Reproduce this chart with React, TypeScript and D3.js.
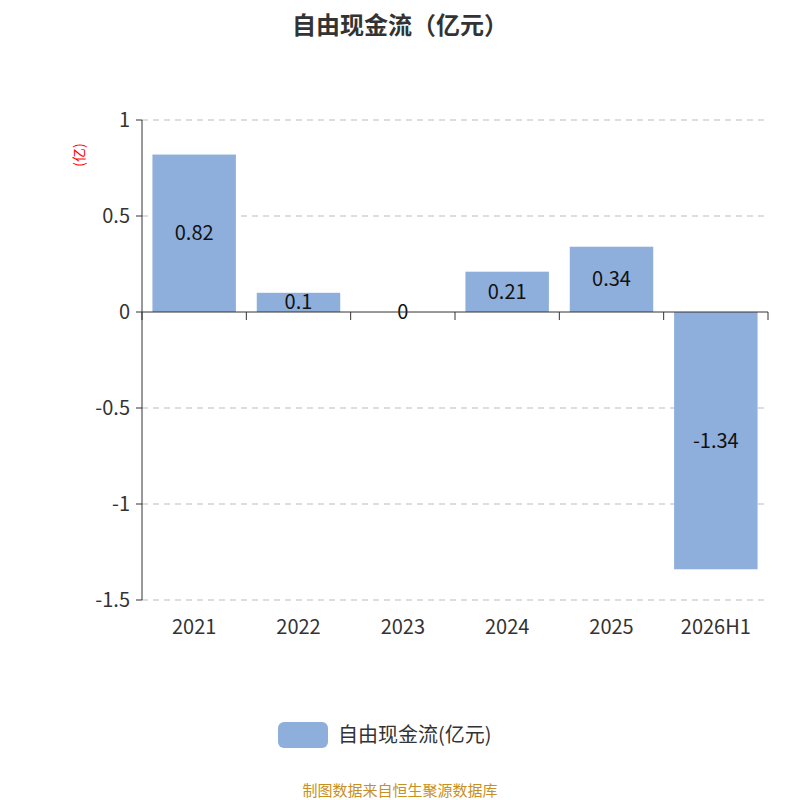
import { scaleBand, scaleLinear } from "d3";

const categories = ["2021", "2022", "2023", "2024", "2025", "2026H1"];
const values = [0.82, 0.1, 0, 0.21, 0.34, -1.34];
const yTicks = [1, 0.5, 0, -0.5, -1, -1.5];

const font = "'Noto Sans CJK SC', 'Noto Sans', sans-serif";

export default function App() {
    const x = scaleBand().domain(categories).range([142, 768]).paddingInner(0.2).paddingOuter(0.1);
    const band = scaleBand().domain(categories).range([142, 768]);
    const y = scaleLinear().domain([-1.5, 1]).range([600, 120]);

    return (
        <svg width={800} height={800} style={{ position: "absolute", left: 0, top: 0, fontFamily: font }}>
            <text x={400} y={34} textAnchor="middle" fontSize={24} fontWeight="bold" fill="#333">
                自由现金流（亿元）
            </text>
            <text transform="translate(84,155) rotate(-90)" textAnchor="middle" fontSize={14} fill="red">
                (亿)
            </text>
            {yTicks.map((t) => (
                <g key={t}>
                    {t !== 0 && (
                        <line x1={142} x2={768} y1={y(t)} y2={y(t)} stroke="#bbb" strokeDasharray="6,5" />
                    )}
                    <line x1={136} x2={142} y1={y(t)} y2={y(t)} stroke="#333" />
                    <text x={130} y={y(t)} dy="0.35em" textAnchor="end" fontSize={20} fill="#333">
                        {t}
                    </text>
                </g>
            ))}
            {categories.map((c, i) => {
                const v = values[i];
                const top = y(Math.max(v, 0));
                const h = Math.abs(y(v) - y(0));
                return (
                    <g key={c}>
                        <rect x={x(c)} y={top} width={x.bandwidth()} height={h} fill="#8eaedb" />
                        <text
                            x={x(c)! + x.bandwidth() / 2}
                            y={(y(v) + y(0)) / 2}
                            dy="0.35em"
                            textAnchor="middle"
                            fontSize={20}
                            fill="#111"
                        >
                            {v}
                        </text>
                        <text x={band(c)! + band.bandwidth() / 2} y={634} textAnchor="middle" fontSize={20} fill="#333">
                            {c}
                        </text>
                    </g>
                );
            })}
            <line x1={142} x2={142} y1={120} y2={600} stroke="#333" />
            <line x1={142} x2={768} y1={y(0)} y2={y(0)} stroke="#333" />
            {[...categories.map((c) => band(c)!), 768].map((bx, i) => (
                <line key={i} x1={bx} x2={bx} y1={y(0)} y2={y(0) + 8} stroke="#333" />
            ))}
            <rect x={278} y={722} width={50} height={26} rx={6} fill="#8eaedb" />
            <text x={338} y={735} dy="0.35em" fontSize={20} fill="#333">
                自由现金流(亿元)
            </text>
            <text x={400} y={796} textAnchor="middle" fontSize={15} fill="#c8901e">
                制图数据来自恒生聚源数据库
            </text>
        </svg>
    );
}
